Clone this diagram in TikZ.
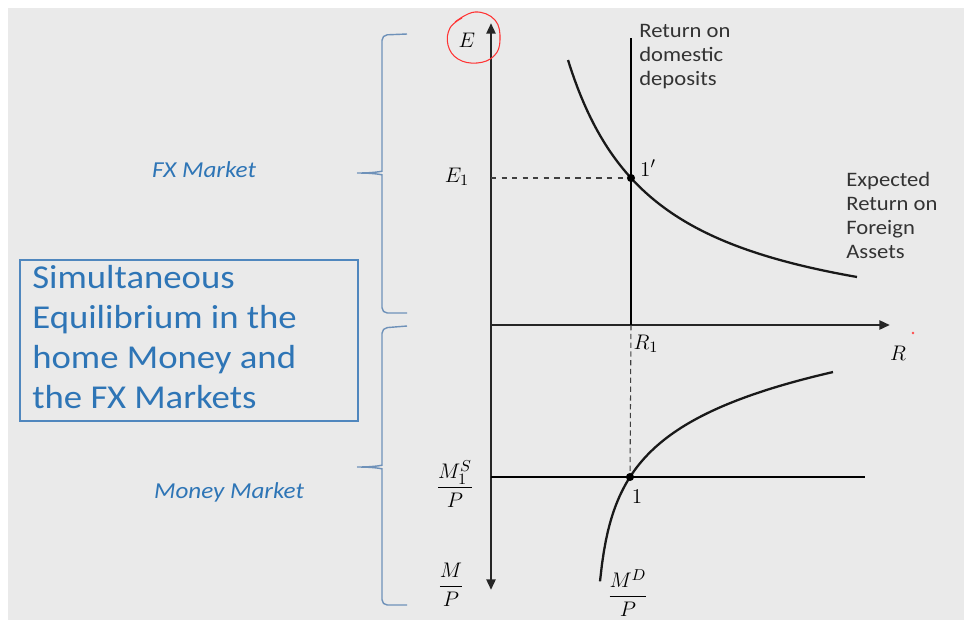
\documentclass[tikz,border=0pt]{standalone}
\usepackage{amsmath}
\usepackage{fontspec}
\setmainfont{Carlito}[FakeStretch=1.1]
\usepackage{tikz}
\usetikzlibrary{arrows.meta, positioning, decorations.pathreplacing, calc}

\definecolor{slideblue}{RGB}{46,117,182}
\definecolor{boxblue}{RGB}{80,135,190}
\definecolor{bracegray}{RGB}{110,145,185}
\definecolor{bggray}{RGB}{234,234,234}

\begin{document}
\begin{tikzpicture}[x=0.02cm, y=-0.02cm,
    axis/.style={line width=1.6pt, black!85},
    curve/.style={line width=1.3pt, black!90},
    guide/.style={dashed, line width=0.6pt, black!75},
    lbl/.style={font=\fontsize{11.7}{13.7}\selectfont, align=left, text=black!80, inner sep=0pt},
    mlbl/.style={font=\fontsize{13}{15}\selectfont, inner sep=1pt},
    mkt/.style={font=\fontsize{13}{15}\selectfont\itshape, text=slideblue},
    bracket/.style={line width=0.8pt, bracegray, rounded corners=3pt}]
    % Slide background
    \fill[white] (0,0) rectangle (964,620);
    \fill[bggray] (8,8) rectangle (964,620);
    \useasboundingbox (0,0) rectangle (964,620);
    % Axes
    \coordinate (O) at (491,325);
    \coordinate (Etop) at (491,23);
    \coordinate (Mbot) at (491,590);
    \coordinate (Rend) at (890,325);
    \draw[axis, {Triangle[length=6pt,width=5pt]}-{Triangle[length=6pt,width=5pt]}] (Mbot) -- (Etop);
    \draw[axis, -{Triangle[length=6pt,width=5pt]}] (O) -- (Rend);
    % FX market
    \coordinate (domtop) at (631,38);
    \coordinate (Rone) at (631,325);
    \coordinate (eqfx) at (631,178);
    \coordinate (Eone) at (491,178);
    \draw[line width=1.1pt] (domtop) -- (Rone);
    \draw[guide] (Eone) -- (eqfx);
    \draw[curve] plot[domain=568:857, samples=90] (\x, {343.2-249.78/((\x-479.8)/100)});
    \fill (eqfx) circle (2.3pt);
    % Money market
    \coordinate (MSleft) at (491,477);
    \coordinate (MSright) at (865,477);
    \coordinate (eqmm) at (630,477);
    \draw[line width=1.1pt] (MSleft) -- (MSright);
    \draw[guide, densely dashed] (Rone) -- (eqmm);
    \draw[curve] plot[domain=600:833, samples=120] (\x, {477-54.9*ln((\x-594.8)/35.2)});
    \fill (eqmm) circle (2.3pt);
    % Axis labels
    \node[mlbl] (Elbl) at (467,40) {$E$};
    \node[mlbl] (Eonelbl) at (457,177) {$E_1$};
    \node[mlbl] (fxpt) at (648,168) {$1'$};
    \node[mlbl] (Ronelbl) at (646,344) {$R_1$};
    \node[mlbl] (Rlbl) at (898,353) {$R$};
    \node[mlbl] (mmpt) at (637,497) {$1$};
    \node[mlbl] (MSlbl) at (455,484) {$\dfrac{M_1^S}{P}$};
    \node[mlbl] (MPlbl) at (451,585) {$\dfrac{M}{P}$};
    \node[mlbl] (MDlbl) at (628,593) {$\dfrac{M^D}{P}$};
    % Curve labels
    \node[lbl, anchor=north west] (domlbl) at (639,24) {Return on\\domestic\\deposits};
    \node[lbl, anchor=north west] (forlbl) at (846,172) {Expected\\Return on\\Foreign\\Assets};
    % Braces and market names
    \coordinate (fxtip) at (357,173);
    \coordinate (mmtip) at (357,467);
    \draw[bracket] (407,34) -- (382,35) -- (382,166) .. controls (382,171) and (376,173) .. (fxtip)
                   (fxtip) .. controls (376,173) and (382,175) .. (382,180) -- (382,313) -- (407,313);
    \draw[bracket] (407,326) -- (382,328) -- (382,460) .. controls (382,465) and (376,467) .. (mmtip)
                   (mmtip) .. controls (376,467) and (382,469) .. (382,474) -- (382,605) -- (407,605);
    \node[mkt] (fxlbl) at (204,170) {FX Market};
    \node[mkt] (mmlbl) at (229,492) {Money Market};
    % Title box
    \draw[boxblue, line width=0.8pt] (20,260) rectangle (358,421);
    \node[anchor=north west, align=left, inner sep=0pt, text=slideblue,
          font=\fontsize{19}{22.8}\selectfont] (title) at (32,265)
          {Simultaneous\\Equilibrium in the\\home Money and\\the FX Markets};
    % Hand marks
    \draw[red!80, line width=0.6pt] plot[smooth, tension=0.7] coordinates {(455,22) (475,12) (495,20) (500,40) (494,56) (477,63) (458,59) (448,45) (450,28) (462,18)};
    \fill[red!70] (913,333) circle (0.8pt);
\end{tikzpicture}
\end{document}
